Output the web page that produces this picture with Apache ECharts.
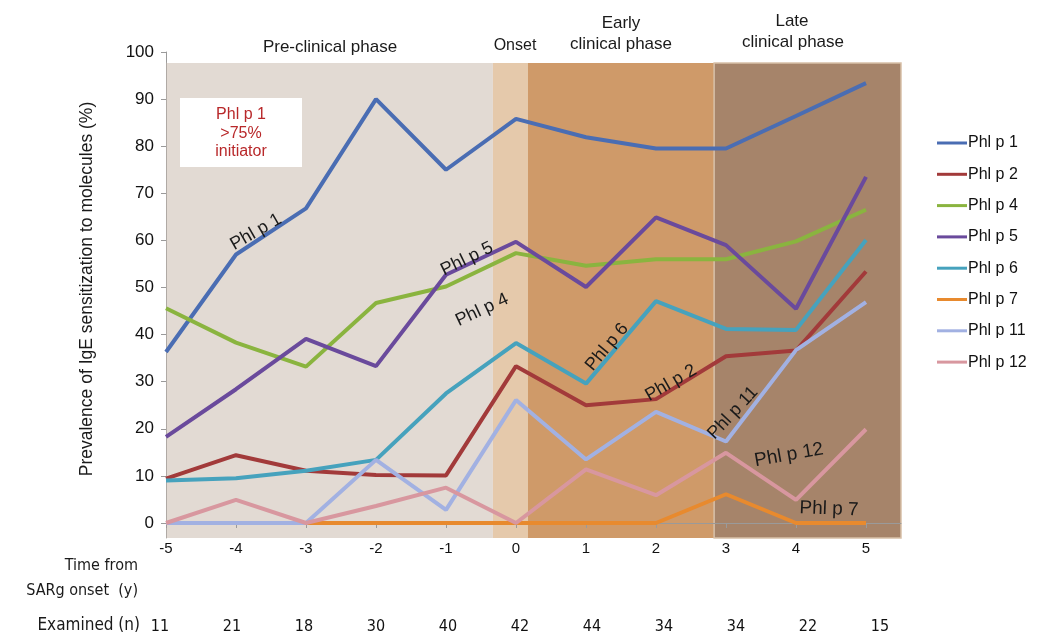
<!DOCTYPE html>
<html>
<head>
<meta charset="utf-8">
<script src="https://cdn.jsdelivr.net/npm/echarts@6/dist/echarts.min.js"></script>
<style>html,body{margin:0;padding:0;background:#fff}#c{width:1048px;height:635px}</style>
</head>
<body>
<div id="c"></div>
<script>
const timeLabels = [-5, -4, -3, -2, -1, 0, 1, 2, 3, 4, 5];
const examinedN = [11, 21, 18, 30, 40, 42, 44, 34, 34, 22, 15];
const seriesNames = ['Phl p 1', 'Phl p 2', 'Phl p 4', 'Phl p 5', 'Phl p 6', 'Phl p 7', 'Phl p 11', 'Phl p 12'];
const phl1 = [36.3, 57.0, 66.8, 90.0, 75.0, 85.8, 81.9, 79.5, 79.5, 86.4, 93.4];
const phl2 = [9.4, 14.4, 11.1, 10.2, 10.1, 33.3, 25.0, 26.3, 35.4, 36.6, 53.4];
const phl4 = [45.6, 38.3, 33.2, 46.7, 50.2, 57.3, 54.6, 56.0, 56.0, 59.8, 66.5];
const phl5 = [18.3, 28.4, 39.1, 33.3, 52.7, 59.7, 50.1, 64.9, 59.0, 45.5, 73.5];
const phl6 = [9.0, 9.5, 11.1, 13.4, 27.5, 38.2, 29.6, 47.1, 41.2, 41.0, 60.1];
const phl7 = [0, 0, 0, 0, 0, 0, 0, 0, 6.1, 0, 0];
const phl11 = [0, 0, 0, 13.4, 2.8, 26.1, 13.5, 23.6, 17.3, 36.7, 46.9];
const phl12 = [0, 4.9, 0, 3.6, 7.5, 0, 11.4, 5.9, 14.9, 4.9, 19.9];
const seriesValues = [phl1, phl2, phl4, phl5, phl6, phl7, phl11, phl12];
const seriesColors = ['#4a6db3', '#a23a3a', '#8ab43f', '#6a4a9c', '#46a2bd', '#e88a2e', '#a2b1e2', '#d8979f'];
// phase bands on the time axis: [from, to]
const phaseBands = [[-5, -0.33], [-0.33, 0.17], [0.17, 2.83], [2.83, 5.5]];
const phaseColors = ['#e2dad3', '#e5c9ab', '#cf9a69', '#a6846a'];

const FONT = '"Liberation Sans", Arial, sans-serif';
const NARROW = '"Liberation Sans Narrow", "DejaVu Sans Condensed", "Liberation Sans", sans-serif';

const chart = echarts.init(document.getElementById('c'), null, {renderer: 'canvas'});

const lineSeries = seriesNames.map((name, i) => ({
  name: name,
  type: 'line',
  xAxisIndex: 0,
  yAxisIndex: 0,
  data: timeLabels.map((t, j) => [t, seriesValues[i][j]]),
  symbol: 'none',
  showSymbol: false,
  color: seriesColors[i],
  lineStyle: {width: 4, color: seriesColors[i]},
  z: 5 + i
}));

const bandSeries = {
  type: 'line',
  xAxisIndex: 1,
  yAxisIndex: 1,
  data: [[-5, 0]],
  symbol: 'none',
  lineStyle: {opacity: 0},
  silent: true,
  z: 1,
  markArea: {
    silent: true,
    data: phaseBands.map((b, i) => [
      {xAxis: b[0], yAxis: 0, itemStyle: {color: phaseColors[i], borderColor: i === 3 ? '#d8c0a8' : 'transparent', borderWidth: i === 3 ? 1.5 : 0}},
      {xAxis: b[1], yAxis: 1}
    ])
  }
};

const dummyExam = {
  type: 'line', xAxisIndex: 2, yAxisIndex: 2, data: [], symbol: 'none'
};

function txt(x, y, text, opts) {
  return Object.assign({
    type: 'text', x: x, y: y, silent: true,
    style: Object.assign({text: text, fill: '#1a1a1a', font: '17px ' + FONT, align: 'center', verticalAlign: 'middle'}, (opts && opts.style) || {})
  }, opts && opts.rotation !== undefined ? {rotation: opts.rotation} : {});
}
const deg = d => d * Math.PI / 180;

const option = {
  animation: false,
  backgroundColor: '#fff',
  grid: [
    {left: 166, right: 147, top: 52, bottom: 112, containLabel: false},
    {left: 166, right: 147, top: 63, bottom: 97, containLabel: false},
    {left: 160, right: 168, top: 590, bottom: 22, containLabel: false}
  ],
  xAxis: [
    {
      type: 'value', gridIndex: 0, min: -5, max: 5.5, z: 4,
      axisLine: {show: true, onZero: false, lineStyle: {color: '#9a9a9a', width: 1}},
      axisTick: {show: true, length: 5, lineStyle: {color: '#9a9a9a'}, customValues: timeLabels},
      axisLabel: {customValues: timeLabels, margin: 18, fontSize: 15, color: '#111', fontFamily: FONT},
      splitLine: {show: false}
    },
    {
      type: 'value', gridIndex: 1, min: -5, max: 5.5, show: false
    },
    {
      type: 'category', gridIndex: 2, data: examinedN.map(String), boundaryGap: false,
      axisLine: {show: false}, axisTick: {show: false},
      axisLabel: {margin: 6, fontSize: 16, color: '#111', fontFamily: NARROW, interval: 0}
    }
  ],
  yAxis: [
    {
      type: 'value', gridIndex: 0, min: 0, max: 100, interval: 10, z: 4,
      axisLine: {show: true, onZero: false, lineStyle: {color: '#9a9a9a', width: 1}},
      axisTick: {show: true, length: 5, inside: false, lineStyle: {color: '#9a9a9a'}},
      axisLabel: {margin: 12, fontSize: 17, color: '#111', fontFamily: FONT},
      splitLine: {show: false}
    },
    {
      type: 'value', gridIndex: 1, min: 0, max: 1, z: 4,
      axisLine: {show: true, onZero: false, lineStyle: {color: '#b0aaa5', width: 1}},
      axisTick: {show: false}, axisLabel: {show: false}, splitLine: {show: false}
    },
    {type: 'value', gridIndex: 2, show: false}
  ],
  legend: {
    orient: 'vertical', left: 932, top: 130,
    itemWidth: 30, itemHeight: 3, itemGap: 15.3,
    icon: 'rect',
    data: seriesNames,
    textStyle: {fontSize: 16, color: '#111', fontFamily: FONT, padding: [0, 0, 0, -4]},
    selectedMode: false
  },
  series: [bandSeries].concat(lineSeries).concat([dummyExam]),
  graphic: [
    // y axis title
    txt(87, 289, 'Prevalence of IgE sensitization to molecules (%)', {rotation: deg(90), style: {font: '17.5px ' + FONT}}),
    // phase titles
    txt(330, 47, 'Pre-clinical phase'),
    txt(515, 46, 'Onset', {style: {font: '16px ' + FONT}}),
    txt(621, 23, 'Early'),
    txt(621, 44, 'clinical phase'),
    txt(792, 21, 'Late'),
    txt(793, 42, 'clinical phase'),
    // annotation box
    {type: 'rect', shape: {x: 180, y: 98, width: 122, height: 69}, style: {fill: '#ffffff'}, z: 20, silent: true},
    Object.assign(txt(241, 115, 'Phl p 1', {style: {fill: '#b8282a', font: '16px ' + FONT}}), {z: 21}),
    Object.assign(txt(241, 134, '>75%', {style: {fill: '#b8282a', font: '16px ' + FONT}}), {z: 21}),
    Object.assign(txt(241, 152, 'initiator', {style: {fill: '#b8282a', font: '16px ' + FONT}}), {z: 21}),
    // series labels on lines
    Object.assign(txt(256, 232, 'Phl p 1', {rotation: deg(30), style: {font: '18px ' + FONT}}), {z: 30}),
    Object.assign(txt(467, 259, 'Phl p 5', {rotation: deg(26), style: {font: '18px ' + FONT}}), {z: 30}),
    Object.assign(txt(482, 310, 'Phl p 4', {rotation: deg(25), style: {font: '18px ' + FONT}}), {z: 30}),
    Object.assign(txt(607, 347, 'Phl p 6', {rotation: deg(50), style: {font: '18px ' + FONT}}), {z: 30}),
    Object.assign(txt(671, 383, 'Phl p 2', {rotation: deg(30), style: {font: '18px ' + FONT}}), {z: 30}),
    Object.assign(txt(733, 413, 'Phl p 11', {rotation: deg(47), style: {font: '18px ' + FONT}}), {z: 30}),
    Object.assign(txt(789, 455, 'Phl p 12', {rotation: deg(10), style: {font: '19px ' + FONT}}), {z: 30}),
    Object.assign(txt(829, 509, 'Phl p 7', {rotation: deg(-2), style: {font: '19px ' + FONT}}), {z: 30}),
    // bottom row labels
    txt(138, 566, 'Time from', {style: {align: 'right', font: '16px ' + NARROW}}),
    txt(138, 591, 'SARg onset  (y)', {style: {align: 'right', font: '16px ' + NARROW}}),
    txt(140, 626, 'Examined (n)', {style: {align: 'right', font: '17px ' + NARROW}})
  ]
};
chart.setOption(option);
</script>
</body>
</html>
